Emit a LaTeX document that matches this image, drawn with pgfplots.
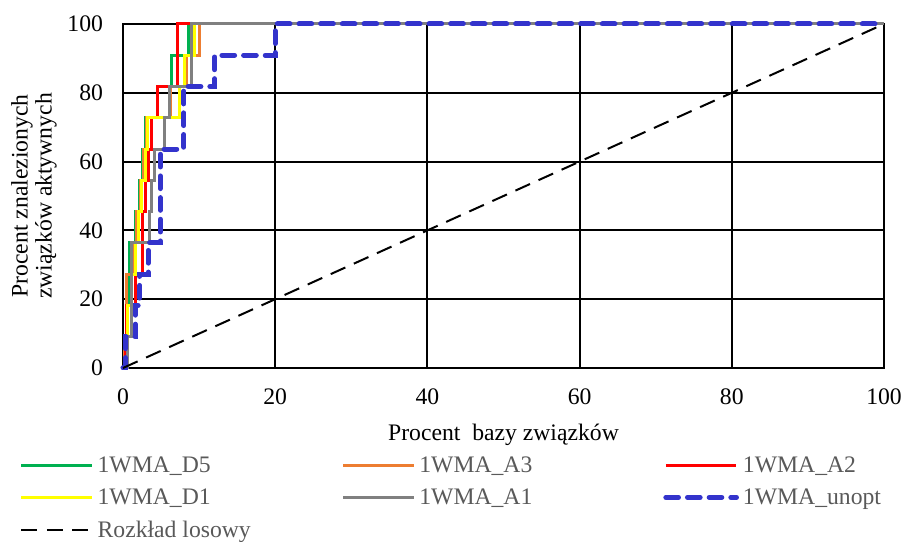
\documentclass[border=0pt]{standalone}
\usepackage{pgfplots}
\pgfplotsset{compat=1.18}
\usepackage{fontspec}
\setmainfont{Liberation Serif}
\definecolor{cgreen}{RGB}{0,176,80}
\definecolor{corange}{RGB}{237,125,49}
\definecolor{cred}{RGB}{255,0,0}
\definecolor{cyellow}{RGB}{255,255,0}
\definecolor{cgray}{RGB}{128,128,128}
\definecolor{cblue}{RGB}{51,51,204}
\definecolor{legtext}{RGB}{89,89,89}
\newcommand{\fs}{\fontsize{17.75pt}{18pt}\selectfont}
\newcommand{\legent}[1]{\makebox[186pt][l]{\hspace{3pt}#1}}
\begin{document}
\begin{tikzpicture}
\useasboundingbox (-92.25pt,-130.5pt) rectangle (585.75pt,276pt);
\begin{axis}[
  at={(0,0)}, anchor=south west,
  width=570.75pt, height=258pt, scale only axis,
  xmin=0, xmax=100, ymin=0, ymax=100,
  xtick={0,20,...,100}, ytick={0,20,...,100},
  grid=major, major grid style={black, line width=1.5pt},
  axis line style={black, line width=1.5pt},
  major tick length=0pt,
  clip=false,
  /pgf/number format/assume math mode=true,
  tick label style={font=\fs, black},
  xticklabel style={anchor=base, inner sep=0pt, yshift=-27.2pt},
  yticklabel style={anchor=east, inner sep=0pt, xshift=-14.8pt},
  xlabel={Procent\ \ bazy związków},
  ylabel={Procent znalezionych\\związków aktywnych},
  xlabel style={font=\fs, at={(axis description cs:0.5,0)}, anchor=base, yshift=-54.5pt, inner sep=0pt},
  ylabel style={font=\fs, align=center, at={(axis description cs:-0.1170,0.5)}, anchor=center},
  legend style={draw=none, fill=none, at={(0,0)}, anchor=north west,
    xshift=-77.25pt, yshift=-65.25pt, inner sep=0pt, outer sep=0pt,
    column sep=0pt, row sep=9.25pt,
    nodes={inner sep=0pt, text height=13pt, text depth=2pt, font=\fs, text=legtext}},
  legend columns=3, legend cell align=left,
  legend image code/.code={\draw[#1] (0pt,0pt) -- (53pt,0pt);},
]
\addplot[cgreen, line width=2.25pt, mark=none] coordinates {
(0,0)(0.4,0)(0.4,18.18)(0.7,18.18)(0.7,27.27)(0.9,27.27)(0.9,36.36)(1.6,36.36)(1.6,45.45)(2.2,45.45)(2.2,54.55)(2.5,54.55)(2.5,63.64)(3.0,63.64)(3.0,72.73)(6.1,72.73)(6.1,81.82)(6.35,81.82)(6.35,90.91)(8.6,90.91)(8.6,100)(100,100)};
\addlegendentry{\legent{1WMA\_D5}}
\addplot[corange, line width=2.25pt, mark=none] coordinates {
(0,0)(0.2,0)(0.2,9.09)(0.5,9.09)(0.5,27.27)(1.2,27.27)(1.2,36.36)(1.75,36.36)(1.75,45.45)(2.3,45.45)(2.3,54.55)(2.7,54.55)(2.7,63.64)(3.1,63.64)(3.1,72.73)(6.2,72.73)(6.2,81.82)(8.3,81.82)(8.3,90.91)(10.1,90.91)(10.1,100)(100,100)};
\addlegendentry{\legent{1WMA\_A3}}
\addplot[cred, line width=2.25pt, mark=none] coordinates {
(0,0)(0.3,0)(0.3,9.09)(0.5,9.09)(0.5,18.18)(1.6,18.18)(1.6,27.27)(2.5,27.27)(2.5,45.45)(2.9,45.45)(2.9,54.55)(3.4,54.55)(3.4,63.64)(3.8,63.64)(3.8,72.73)(4.5,72.73)(4.5,81.82)(7.1,81.82)(7.1,100)(100,100)};
\addlegendentry{\legent{1WMA\_A2}}
\addplot[cyellow, line width=2.25pt, mark=none] coordinates {
(0,0)(0.6,0)(0.6,18.18)(1.15,18.18)(1.15,27.27)(1.6,27.27)(1.6,36.36)(2.05,36.36)(2.05,45.45)(2.4,45.45)(2.4,54.55)(2.9,54.55)(2.9,63.64)(3.2,63.64)(3.2,72.73)(7.45,72.73)(7.45,81.82)(8.1,81.82)(8.1,90.91)(9.46,90.91)(9.46,100)(100,100)};
\addlegendentry{\legent{1WMA\_D1}}
\addplot[cgray, line width=2.25pt, mark=none] coordinates {
(0,0)(0.6,0)(0.6,9.09)(1.1,9.09)(1.1,36.36)(3.5,36.36)(3.5,45.45)(3.7,45.45)(3.7,54.55)(4.16,54.55)(4.16,63.64)(5.5,63.64)(5.5,72.73)(6.13,72.73)(6.13,81.82)(9.0,81.82)(9.0,100)(100,100)};
\addlegendentry{\legent{1WMA\_A1}}
\addplot[cblue, line width=3.75pt, line cap=round, dash pattern=on 9.5pt off 6.75pt, mark=none] coordinates {
(0,0)(0.3,0)(0.3,9.09)(1.6,9.09)(1.6,18.18)(2.2,18.18)(2.2,27.27)(3.3,27.27)(3.3,36.36)(4.9,36.36)(4.9,63.64)(8.0,63.64)(8.0,81.82)(12.05,81.82)(12.05,90.91)(20,90.91)(20,100)(100,100)};
\addlegendentry{\legent{1WMA\_unopt}}
\addplot[black, line width=1.5pt, dash pattern=on 12pt off 7pt, mark=none] coordinates {(0,0)(100,100)};
\addlegendentry{\legent{Rozkład losowy}}
\end{axis}
\end{tikzpicture}
\end{document}
